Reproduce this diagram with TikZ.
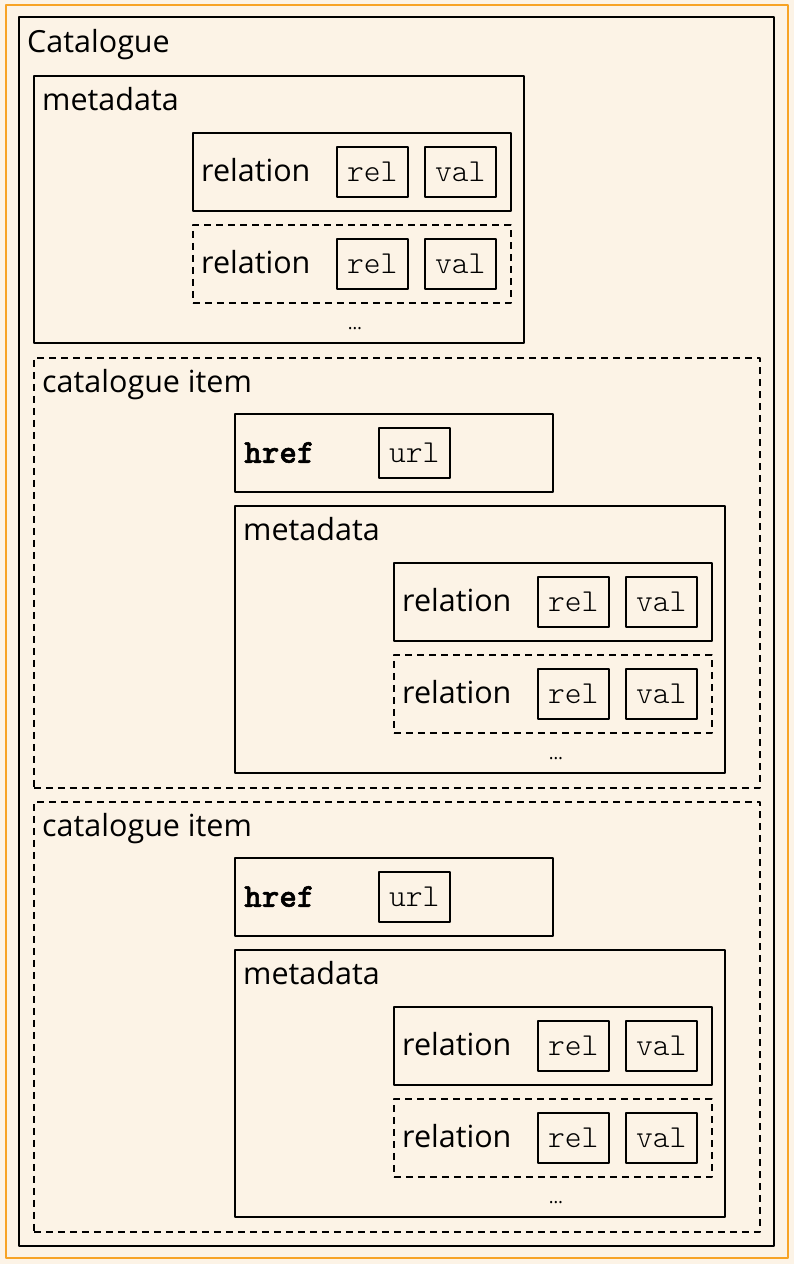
\documentclass[tikz,border=0pt]{standalone}
\usepackage{fontspec}
\setmainfont{Open Sans}
\setmonofont{Latin Modern Mono Light}
\newfontfamily\hrefmono{Latin Modern Mono Light}[BoldFeatures={FakeBold=1.5}]
\definecolor{paper}{RGB}{252,243,230}
\definecolor{frameorange}{RGB}{247,163,37}
\tikzset{
  box/.style={draw=black, line width=1.5pt, anchor=north west, inner sep=0pt},
  dbox/.style={box, dash pattern=on 7pt off 5pt},
  cell/.style={box, minimum width=71pt, minimum height=50pt, text height=20pt, text depth=0pt,
    font=\fontsize{32}{36}\selectfont\ttfamily},
  title/.style={anchor=base west, inner sep=0pt, font=\fontsize{30.5}{35}\selectfont},
  dots/.style={anchor=base, inner sep=0pt, font=\fontsize{18}{20}\selectfont}
}
\begin{document}
\begin{tikzpicture}[line join=round, x=1pt, y=-1pt]
    \fill[paper] (0,0) rectangle (794,1264);
    \useasboundingbox (0,0) rectangle (794,1264);
    \draw[frameorange, line width=2pt] (6,5) rectangle (788,1258);
    % one relation row: name, position, style
    \def\relbox#1#2#3{
        \node[#3, minimum width=318pt, minimum height=78pt] (#1) at (#2) {};
        \node[title] (#1-t) at ([shift={(9,10)}]#1.west) {relation};
        \node[cell] (#1-rel) at ([shift={(144,14)}]#1.north west) {rel};
        \node[cell] (#1-val) at ([shift={(232,14)}]#1.north west) {val};
    }
    % metadata block: name, position
    \def\metabox#1#2{
        \node[box, minimum width=490pt, minimum height=267pt] (#1) at (#2) {};
        \node[title] (#1-t) at ([shift={(9,35)}]#1.north west) {metadata};
        \relbox{#1-r1}{[shift={(159,57)}]#1.north west}{box}
        \relbox{#1-r2}{[shift={(159,149)}]#1.north west}{dbox}
        \node[dots] (#1-d) at ([shift={(322,-14)}]#1.south west) {…};
    }
    % catalogue item: name, top
    \def\itembox#1#2{
        \node[dbox, minimum width=726pt, minimum height=430pt] (#1) at (33,#2) {};
        \node[title] (#1-t) at ([shift={(9,35)}]#1.north west) {catalogue item};
        \node[box, minimum width=318pt, minimum height=78pt] (#1-href) at ([shift={(201,56)}]#1.north west) {};
        \node[title, font=\fontsize{33.5}{38}\selectfont\hrefmono\bfseries] (#1-href-t) at ([shift={(10,10)}]#1-href.west) {href};
        \node[cell] (#1-url) at ([shift={(144,14)}]#1-href.north west) {url};
        \metabox{#1-md}{[shift={(201,148)}]#1.north west}
    }
    \node[box, minimum width=755pt, minimum height=1229pt] (cat) at (18,16) {};
    \node[title] (cat-t) at ([shift={(9,36)}]cat.north west) {Catalogue};
    \metabox{md}{33,75}
    \itembox{item1}{357}
    \itembox{item2}{801}
\end{tikzpicture}
\end{document}
